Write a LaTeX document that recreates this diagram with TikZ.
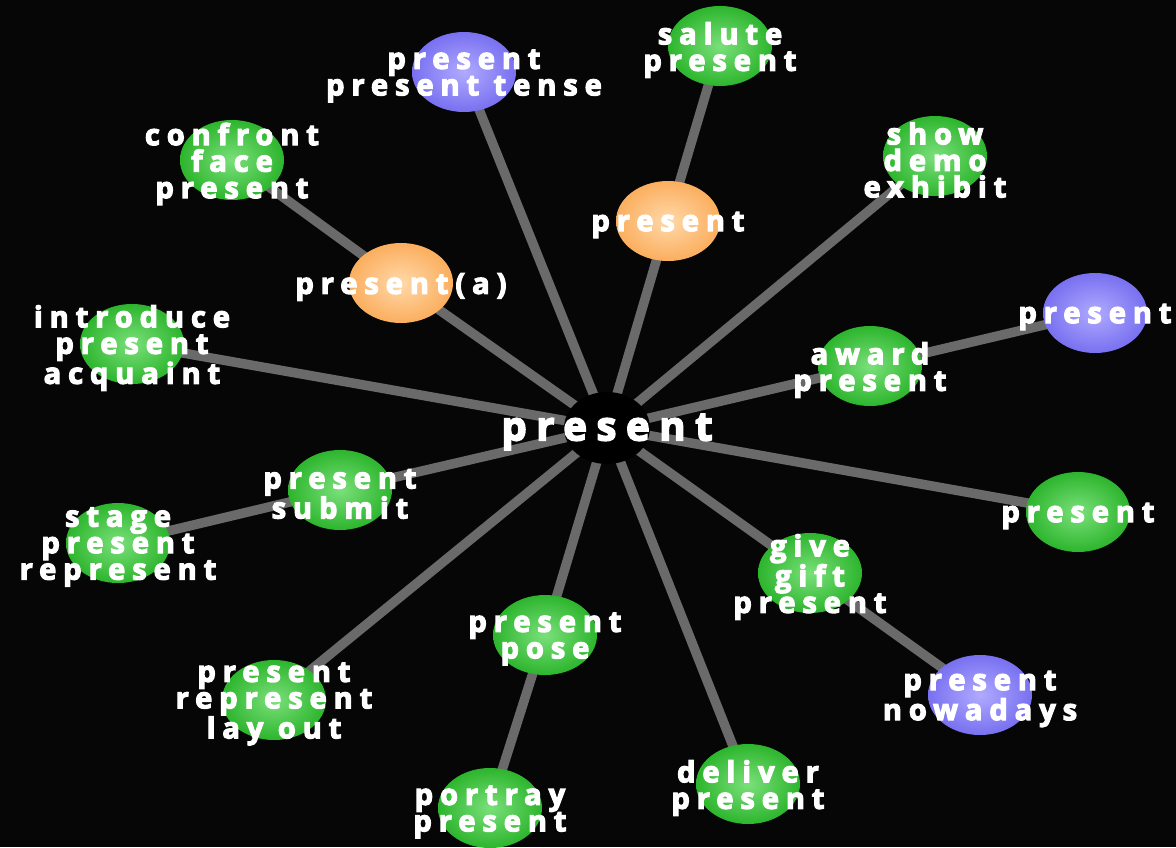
\documentclass[tikz,border=0pt]{standalone}
\usepackage{fontspec}
\setmainfont{Open Sans}[LetterSpace=24, BoldFeatures={FakeBold=4}]
\usetikzlibrary{shapes.geometric}
\pgfdeclarelayer{bg}
\pgfdeclarelayer{edges}
\pgfsetlayers{bg,edges,main}
\definecolor{gr}{HTML}{2DB52D}
\definecolor{grl}{HTML}{7AE07A}
\definecolor{pu}{HTML}{7870F0}
\definecolor{pul}{HTML}{B0AAFF}
\definecolor{orr}{HTML}{FBAE5E}
\definecolor{orl}{HTML}{FFD9AA}
\definecolor{edgec}{HTML}{6A6A6A}
\tikzset{
  ball/.style={ellipse, minimum width=104pt, minimum height=80pt, inner sep=0pt},
  gball/.style={ball, shading=radial, inner color=grl, outer color=gr},
  pball/.style={ball, shading=radial, inner color=pul, outer color=pu},
  oball/.style={ball, shading=radial, inner color=orl, outer color=orr},
  txt/.style={text=white, font=\bfseries\fontsize{29}{26.5}\selectfont, align=center, inner sep=0pt, yshift=-4pt},
  link/.style={draw=edgec, line width=9.5pt}
}
\begin{document}
\begin{tikzpicture}[x=1pt,y=-1pt]
\begin{pgfonlayer}{bg}
\fill[black!95!gray] (0,0) rectangle (1176,847);
\end{pgfonlayer}
\useasboundingbox (0,0) rectangle (1176,847);
% balls
\node[ball, fill=black, minimum width=86pt, minimum height=72pt] (c) at (607,428) {};
\node[oball] (pa) at (401,283) {};
\node[oball] (po) at (668,221) {};
\node[pball] (pt) at (464,72) {};
\node[gball] (sal) at (720,46) {};
\node[gball] (conf) at (232,160) {};
\node[gball] (show) at (935,156) {};
\node[pball] (pr) at (1095,313) {};
\node[gball] (aw) at (870,366) {};
\node[gball] (intro) at (132,344) {};
\node[gball] (sub) at (340,490) {};
\node[gball] (stage) at (118,543) {};
\node[gball] (prg) at (1078,512) {};
\node[gball] (give) at (810,573) {};
\node[pball] (now) at (980,695) {};
\node[gball] (pose) at (545,635) {};
\node[gball] (lay) at (274,700) {};
\node[gball] (port) at (490,808) {};
\node[gball] (del) at (748,784) {};
% edges
\begin{pgfonlayer}{edges}
\foreach \n in {pa,po,pt,show,aw,prg,give,del,pose,lay,sub,intro}
  \draw[link] (c.center) -- (\n.center);
\draw[link] (pa.center) -- (conf.center);
\draw[link] (po.center) -- (sal.center);
\draw[link] (aw.center) -- (pr.center);
\draw[link] (sub.center) -- (stage.center);
\draw[link] (give.center) -- (now.center);
\draw[link] (pose.center) -- (port.center);
\end{pgfonlayer}
% texts
\node[txt, font=\bfseries\fontsize{40}{42}\selectfont] (tc) at (c) {present};
\node[txt] (tpa) at (pa) {present(a)};
\node[txt] (tpo) at (po) {present};
\node[txt] (tpt) at (pt) {present\\present tense};
\node[txt] (tsal) at (sal) {salute\\present};
\node[txt] (tconf) at (conf) {confront\\face\\present};
\node[txt] (tshow) at (show) {show\\demo\\exhibit};
\node[txt] (tpr) at (pr) {present};
\node[txt] (taw) at (aw) {award\\present};
\node[txt] (tintro) at (intro) {introduce\\present\\acquaint};
\node[txt] (tsub) at (sub) {present\\submit};
\node[txt] (tstage) at (stage) {stage\\present\\represent};
\node[txt] (tprg) at (prg) {present};
\node[txt] (tgive) at (give) {give\\gift\\present};
\node[txt] (tnow) at (now) {present\\nowadays};
\node[txt] (tpose) at (pose) {present\\pose};
\node[txt] (tlay) at (lay) {present\\represent\\lay out};
\node[txt] (tport) at (port) {portray\\present};
\node[txt] (tdel) at (del) {deliver\\present};
\end{tikzpicture}
\end{document}
